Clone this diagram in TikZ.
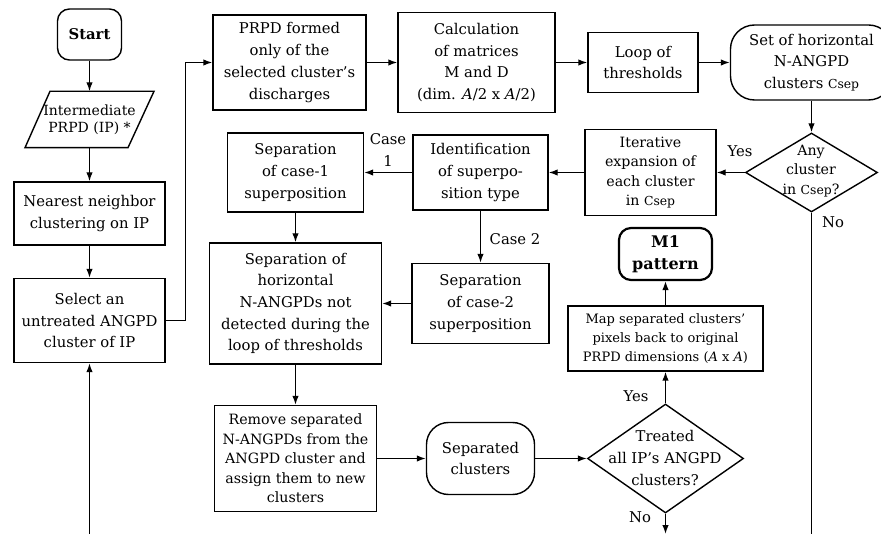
\documentclass[tikz,border=0pt]{standalone}
\usepackage{fontspec}
\setmainfont{DejaVu Serif}
\usetikzlibrary{arrows.meta,shapes.geometric}

% text sizes used in the flow chart
\newcommand\szMain{\fontsize{14.8}{21.7}\selectfont}
\newcommand\szSmall{\fontsize{14.2}{19.4}\selectfont}
\newcommand\szMap{\fontsize{13}{19}\selectfont}
\newcommand\szIn{\fontsize{14}{16.7}\selectfont}
\newcommand\csep{{\fontsize{12.4}{19}\selectfont Csep}}

\begin{document}
\begin{tikzpicture}[x=1pt,y=-1pt,line width=1.4pt,
  every node/.style={inner sep=0pt, align=center, font=\szMain},
  box/.style={draw, rectangle},
  term/.style={draw, rectangle, rounded corners=#1},
  term/.default=12pt,
  dia/.style={draw, diamond},
  arr/.style={-{Latex[length=9pt,width=6.5pt]}},
  lbl/.style={font=\szMain}]

\useasboundingbox (0,0) rectangle (881,534);
\clip (0,0) rectangle (881,534);

% left column
\node[term, font=\szMain\bfseries, minimum width=64pt, minimum height=51pt] (start) at (89.5,34.5) {Start};
\node[font=\szIn, minimum width=80pt, minimum height=55pt] (ip) at (89.5,119.5) {Intermediate\\PRPD (IP) *};
\draw ([xshift=-39.5pt]ip.north) -- ([xshift=64.5pt]ip.north)
      -- ([xshift=38.5pt]ip.south) -- ([xshift=-64.5pt]ip.south) -- cycle;
\node[box, minimum width=151pt, minimum height=63pt] (nn) at (89.5,213.5) {Nearest neighbor\\clustering on IP};
\node[box, minimum width=151pt, minimum height=84pt] (sel) at (89.5,320.5) {Select an\\untreated ANGPD\\cluster of IP};

% top row
\node[box, minimum width=153pt, minimum height=95pt] (prpd) at (289.5,62.5) {PRPD formed\\only of the\\selected cluster’s\\discharges};
\node[box, minimum width=157pt, minimum height=100pt] (calc) at (476.5,62.5) {Calculation\\of matrices\\M and D\\(dim. \textit{A}/2 x \textit{A}/2)};
\node[box, minimum width=110pt, minimum height=60pt] (loop) at (643,62.5) {Loop of\\thresholds};
\node[term=24pt, minimum width=162pt, minimum height=75pt] (set) at (811.5,62.5) {Set of horizontal\\N-ANGPD\\clusters \csep};

% second row
\node[dia, minimum width=132pt, minimum height=79pt] (any) at (811.5,172.5) {};
\node[font=\szSmall] (anyt) at (811,171) {Any\\cluster\\in \csep?};
\node[box, font=\szSmall, minimum width=131pt, minimum height=86pt] (iter) at (650.5,172.5) {Iterative\\expansion of\\each cluster\\in \csep};
\node[box, minimum width=135pt, minimum height=75pt] (ident) at (480.5,172.5) {Identification\\of superpo-\\sition type};
\node[box, minimum width=136pt, minimum height=79pt] (sep1) at (295.5,172.5) {Separation\\of case-1\\superposition};

% third row
\node[box, minimum width=172pt, minimum height=121pt] (seph) at (295.5,303.5) {Separation of\\horizontal\\N-ANGPDs not\\detected during the\\loop of thresholds};
\node[box, minimum width=137pt, minimum height=80pt] (sep2) at (480.5,303.5) {Separation\\of case-2\\superposition};
\node[term, line width=2.2pt, font=\fontsize{16}{21.7}\selectfont\bfseries, minimum width=93pt, minimum height=52pt] (m1) at (665.5,254) {M1\\pattern};
\node[box, font=\szMap, minimum width=195pt, minimum height=65pt] (map) at (665.5,338.5) {Map separated clusters’\\pixels back to original\\PRPD dimensions (\textit{A} x \textit{A})};

% bottom row
\node[box, font=\szSmall, minimum width=162pt, minimum height=106pt] (rem) at (295.5,458.5) {Remove separated\\N-ANGPDs from the\\ANGPD cluster and\\assign them to new\\clusters};
\node[term=22pt, minimum width=108pt, minimum height=72pt] (sepc) at (480.5,458.5) {Separated\\clusters};
\node[dia, minimum width=156pt, minimum height=109pt] (tr) at (665.5,458.5) {};
\node (trt) at (665,458) {Treated\\all IP’s ANGPD\\clusters?};

% connectors
\draw[arr] (start) -- (ip.north);
\draw[arr] (ip.south) -- (nn);
\draw[arr] (nn) -- (sel);
\draw[arr] (sel.east) -- ++(20,0) |- (prpd.west);
\draw[arr] (prpd) -- (calc);
\draw[arr] (calc) -- (loop);
\draw[arr] (loop) -- (set);
\draw[arr] (set) -- (any);
\draw[arr] (any.west) -- (iter.east);
\draw[arr] (iter) -- (ident);
\draw[arr] (ident) -- (sep1);
\draw[arr] (ident) -- (sep2);
\draw[arr] (sep1) -- (seph);
\draw[arr] (sep2) -- (seph);
\draw[arr] (seph) -- (rem);
\draw[arr] (rem) -- (sepc);
\draw[arr] (sepc) -- (tr.west);
\draw[arr] (tr.north) -- (map);
\draw[arr] (map) -- (m1);
\coordinate (trout) at (665.5,534);
\coordinate (anyout) at (811.5,534);
\coordinate (selin) at (89.5,534);
\draw[arr] (tr.south) -- (trout);
\draw (any.south) -- (anyout);
\draw[arr] (selin) -- (sel.south);

% connector labels
\node[lbl] (yes1) at (740,151) {Yes};
\node[lbl] (no1) at (833,222) {No};
\node[lbl] (case1) at (388,150) {Case\\1};
\node[lbl] (case2) at (515,239) {Case 2};
\node[lbl] (yes2) at (636,396) {Yes};
\node[lbl] (no2) at (640,517) {No};
\end{tikzpicture}
\end{document}
